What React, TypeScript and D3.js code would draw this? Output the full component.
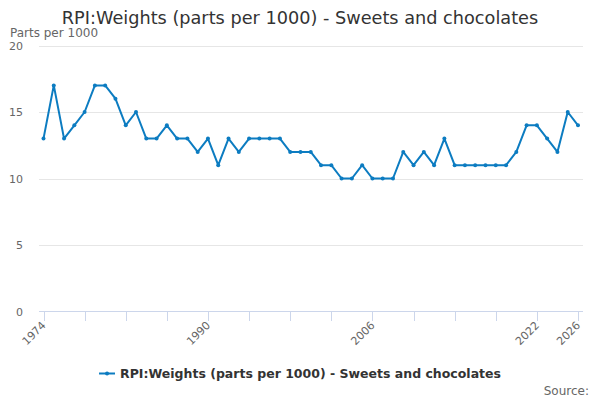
import React, { useEffect, useRef } from "react";
import * as d3 from "d3";

const years: number[] = d3.range(1974, 2027);
const values: number[] = [
  13, 17, 13, 14, 15, 17, 17, 16, 14, 15, 13, 13, 14, 13, 13, 12, 13, 11, 13, 12,
  13, 13, 13, 13, 12, 12, 12, 11, 11, 10, 10, 11, 10, 10, 10, 12, 11, 12, 11, 13,
  11, 11, 11, 11, 11, 11, 12, 14, 14, 13, 12, 15, 14,
];
const yTicks: number[] = [0, 5, 10, 15, 20];
const xTicks: number[] = d3.range(1974, 2027, 4);
const xLabels: number[] = [1974, 1990, 2006, 2022, 2026];

const title = "RPI:Weights (parts per 1000) - Sweets and chocolates";
const lineColor = "#0c7cc1";

export default function App() {
  const ref = useRef<HTMLDivElement | null>(null);

  useEffect(() => {
    if (!ref.current) return;
    document.body.style.margin = "0";
    d3.select(ref.current).selectAll("svg").remove();

    const width = 600;
    const height = 400;
    const font = "'DejaVu Sans', sans-serif";

    const x = d3.scaleLinear().domain([1974, 2026]).range([43.5, 578]);
    const y = d3.scaleLinear().domain([0, 20]).range([311.5, 45.5]);

    const svg = d3
      .select(ref.current)
      .append("svg")
      .attr("width", width)
      .attr("height", height)
      .style("display", "block")
      .attr("font-family", font);

    svg.append("rect").attr("width", width).attr("height", height).attr("fill", "#fff");

    svg
      .append("text")
      .attr("x", 300)
      .attr("y", 24)
      .attr("text-anchor", "middle")
      .attr("font-size", 17.7)
      .attr("fill", "#333")
      .text(title);

    svg
      .append("text")
      .attr("x", 10)
      .attr("y", 37)
      .attr("font-size", 12)
      .attr("fill", "#666")
      .text("Parts per 1000");

    // grid + y labels
    const gy = svg.append("g");
    gy.selectAll("line")
      .data(yTicks.filter((d) => d > 0))
      .join("line")
      .attr("x1", 39)
      .attr("x2", 583)
      .attr("y1", (d) => Math.round(y(d)) + 0.5)
      .attr("y2", (d) => Math.round(y(d)) + 0.5)
      .attr("stroke", "#e6e6e6");
    gy.selectAll("text")
      .data(yTicks)
      .join("text")
      .attr("x", 23)
      .attr("y", (d) => y(d) + 4)
      .attr("text-anchor", "end")
      .attr("font-size", 11)
      .attr("fill", "#666")
      .text((d) => d);

    // x axis
    const gx = svg.append("g");
    gx.append("line")
      .attr("x1", 39)
      .attr("x2", 583)
      .attr("y1", 311.5)
      .attr("y2", 311.5)
      .attr("stroke", "#ccd6eb");
    gx.selectAll("line.tick")
      .data(xTicks)
      .join("line")
      .attr("class", "tick")
      .attr("x1", (d) => Math.round(x(d)) + 0.5)
      .attr("x2", (d) => Math.round(x(d)) + 0.5)
      .attr("y1", 311.5)
      .attr("y2", 321)
      .attr("stroke", "#ccd6eb");
    gx.selectAll("text")
      .data(xLabels)
      .join("text")
      .attr("transform", (d) => `translate(${x(d) + 3},${326}) rotate(-45)`)
      .attr("text-anchor", "end")
      .attr("font-size", 11)
      .attr("fill", "#666")
      .text((d) => d);

    // series
    const line = d3
      .line<number>()
      .x((_, i) => x(years[i]))
      .y((d) => y(d));
    svg
      .append("path")
      .datum(values)
      .attr("d", line)
      .attr("fill", "none")
      .attr("stroke", lineColor)
      .attr("stroke-width", 2)
      .attr("stroke-linejoin", "round");
    svg
      .append("g")
      .selectAll("circle")
      .data(values)
      .join("circle")
      .attr("cx", (_, i) => x(years[i]))
      .attr("cy", (d) => y(d))
      .attr("r", 2)
      .attr("fill", lineColor);

    // legend
    const lg = svg.append("g");
    const legendText = lg
      .append("text")
      .attr("x", 121)
      .attr("y", 378)
      .attr("font-size", 12.5)
      .attr("font-weight", "bold")
      .attr("fill", "#333")
      .text(title);
    const tw = (legendText.node() as SVGTextElement).getComputedTextLength();
    const total = 16 + 5 + tw;
    const start = 300 - total / 2;
    legendText.attr("x", start + 21);
    lg.append("line")
      .attr("x1", start)
      .attr("x2", start + 16)
      .attr("y1", 373.5)
      .attr("y2", 373.5)
      .attr("stroke", lineColor)
      .attr("stroke-width", 2);
    lg.append("circle").attr("cx", start + 8).attr("cy", 373.5).attr("r", 2).attr("fill", lineColor);

    svg
      .append("text")
      .attr("x", 589)
      .attr("y", 395)
      .attr("text-anchor", "end")
      .attr("font-size", 12)
      .attr("fill", "#666")
      .text("Source:");
  }, []);

  return <div ref={ref}></div>;
}
